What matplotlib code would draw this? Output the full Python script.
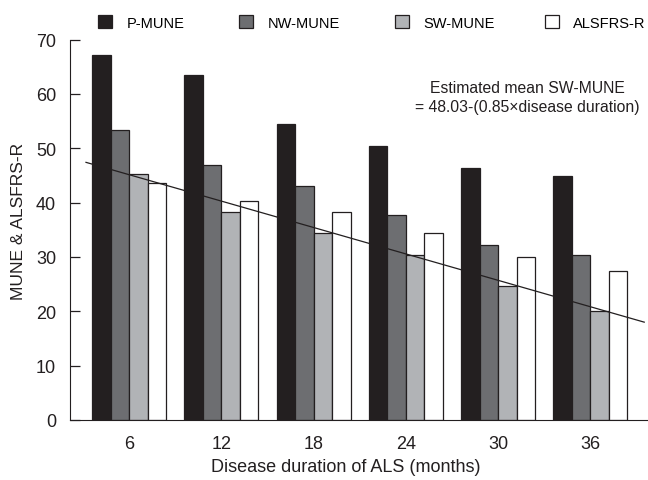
import matplotlib
matplotlib.use('Agg')
import matplotlib.pyplot as plt
import numpy as np

plt.rcParams['font.family'] = ['Liberation Sans', 'DejaVu Sans']

months = [6, 12, 18, 24, 30, 36]
p_mune = [67.1, 63.4, 54.4, 50.4, 46.3, 44.9]
nw_mune = [53.4, 46.9, 43.0, 37.8, 32.2, 30.4]
sw_mune = [45.3, 38.3, 34.4, 30.3, 24.6, 20.1]
alsfrs = [43.6, 40.3, 38.3, 34.4, 29.9, 27.5]
series_names = ['P-MUNE', 'NW-MUNE', 'SW-MUNE', 'ALSFRS-R']

# regression line as drawn (end points)
trend_x = [3.2, 39.5]
trend_y = [47.4, 18.0]

colors = ['#231f20', '#6d6e71', '#b1b3b6', '#ffffff']
ink = '#231f20'

fig = plt.figure(figsize=(6.48, 4.81), dpi=100)
ax = fig.add_axes([70/648, 1-421/481, (647-70)/648, (421-40.5)/481])

x = np.array(months, dtype=float)
w = 1.2
all_vals = [p_mune, nw_mune, sw_mune, alsfrs]
handles = []
for i in range(4):
    b = ax.bar(x + (i - 1.5)*w, all_vals[i], width=w, color=colors[i],
               edgecolor=ink, linewidth=0.9, label=series_names[i], zorder=2)
    handles.append(b)

ax.plot(trend_x, trend_y, color=ink, linewidth=0.9, zorder=3)

ax.set_xlim(2.16, 39.68)
ax.set_ylim(0, 70)
ax.set_yticks(range(0, 71, 10))
ax.set_xticks(months)
ax.spines['top'].set_visible(False)
ax.spines['right'].set_visible(False)
ax.spines['left'].set_color(ink)
ax.spines['bottom'].set_color(ink)
ax.tick_params(axis='y', direction='in', length=7, width=0.9, labelsize=13, pad=10, colors=ink)
ax.tick_params(axis='x', length=0, labelsize=13, pad=11, colors=ink)
ax.set_xlabel('Disease duration of ALS (months)', fontsize=13, color=ink)
ax.xaxis.set_label_coords((346 - 70)/577, -(459 - 421)/380.5)
ax.set_ylabel('MUNE & ALSFRS-R', fontsize=12.5, color=ink)
ax.yaxis.set_label_coords((26 - 70)/577, (421 - 221)/380.5)

ax.text((527 - 70)/577, (421 - 98)/380.5,
        'Estimated mean SW-MUNE\n= 48.03-(0.85\u00d7disease duration)',
        transform=ax.transAxes, ha='center', va='center', fontsize=11.3,
        color=ink, linespacing=1.3)

# one small legend per series so the entries sit where the reference has them
legend_x = [98, 239, 395, 545]
for h, name, lx in zip(handles, series_names, legend_x):
    fig.legend([h], [name], loc='center left', bbox_to_anchor=(lx/648, 1 - 23.5/481),
               frameon=False, fontsize=10.5, handlelength=0.95, handleheight=0.95,
               handletextpad=1.0, borderpad=0, borderaxespad=0)

plt.savefig('out.png', dpi=100)
